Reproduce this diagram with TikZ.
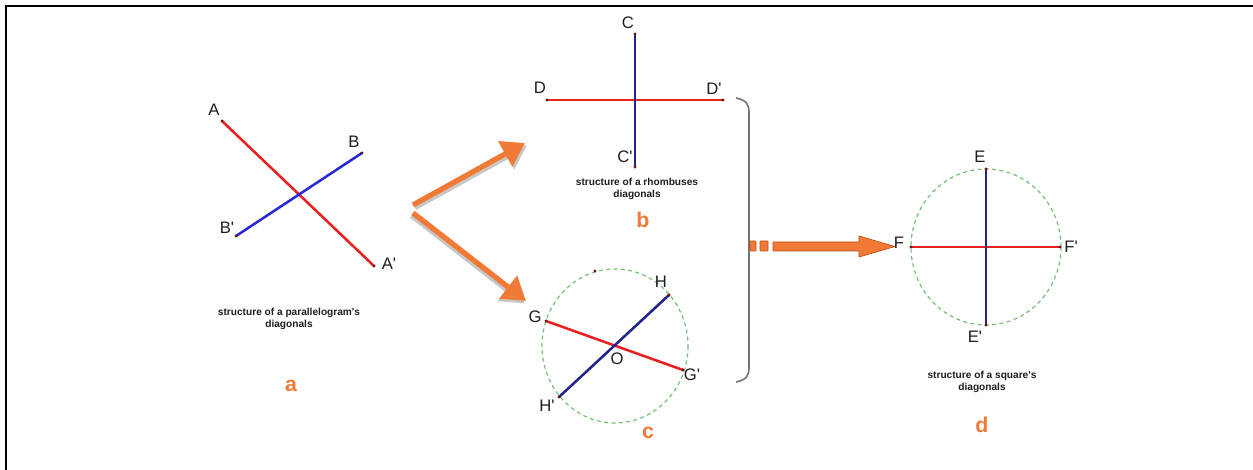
\documentclass[tikz,border=0pt]{standalone}
\usepackage{fontspec}
\setmainfont{Liberation Sans}
\usetikzlibrary{arrows.meta}
\definecolor{lred}{RGB}{232,32,32}
\definecolor{lblue}{RGB}{40,40,215}
\definecolor{navy}{RGB}{35,35,140}
\definecolor{orng}{RGB}{242,122,55}
\definecolor{orngdark}{RGB}{190,80,20}
\definecolor{dgreen}{RGB}{120,190,120}
\definecolor{ptc}{RGB}{110,20,20}
\definecolor{txt}{RGB}{30,30,30}
\newcommand{\pr}{\textquotesingle}
\tikzset{
  redseg/.style={draw=lred,line width=1.9pt},
  blueseg/.style={draw=lblue,line width=1.9pt},
  navyseg/.style={draw=navy,line width=1.9pt},
  ptlabel/.style={font=\fontsize{12.5}{12.5}\selectfont,text=txt,inner sep=0pt},
  caption/.style={font=\bfseries\fontsize{7.6}{9.5}\selectfont,text=txt,align=center,inner sep=0pt},
  letter/.style={font=\bfseries\fontsize{16}{16}\selectfont,text=orng,inner sep=0pt},
  dotpt/.style={fill=ptc,circle,inner sep=0pt,minimum size=2.4pt},
  circ/.style={draw=dgreen,line width=0.9pt,dash pattern=on 3pt off 2.5pt},
  orarrow/.style={draw=orng,line width=4pt,-{Triangle[length=17pt,width=21pt]}},
  shadarrow/.style={draw=black!22,line width=4pt,-{Triangle[length=17pt,width=21pt]}},
}
\begin{document}
\begin{tikzpicture}[x=0.75pt,y=-0.75pt]
\useasboundingbox (0,0) rectangle (1253,470);
\draw[line width=2pt] (6,470) -- (6,6) -- (1253,6);

% ---- a ----
\coordinate (A) at (222,121);
\coordinate (A2) at (374,266);
\coordinate (B) at (362,153);
\coordinate (B2) at (236,236);
\draw[redseg] (A) -- (A2);
\draw[blueseg] (B2) -- (B);
\foreach \p in {A,A2,B,B2} \node[dotpt] at (\p) {};
\node[ptlabel] (lA) at (214,110) {A};
\node[ptlabel] (lA2) at (389,264) {A\pr};
\node[ptlabel] (lB) at (354,142) {B};
\node[ptlabel] (lB2) at (227,228) {B\pr};
\node[caption] (capa) at (289,319) {structure of a parallelogram\pr s\\diagonals};
\node[letter] (la) at (291,386) {a};

% ---- arrows from a ----
\coordinate (s1) at (413,205);
\coordinate (t1) at (525,143);
\coordinate (s2) at (413,213);
\coordinate (t2) at (526,301);
\draw[shadarrow] ([shift={(2,2.5)}]s1) -- ([shift={(2,2.5)}]t1);
\draw[orarrow] (s1) -- (t1);
\draw[shadarrow] ([shift={(-1.5,2.5)}]s2) -- ([shift={(-1.5,2.5)}]t2);
\draw[orarrow] (s2) -- (t2);

% ---- b ----
\coordinate (C) at (635,34);
\coordinate (C2) at (635,167);
\coordinate (D) at (547,100);
\coordinate (D2) at (723,100);
\draw[redseg] (D) -- (D2);
\draw[navyseg] (C) -- (C2);
\foreach \p in {C,C2,D,D2} \node[dotpt] at (\p) {};
\node[ptlabel] (lC) at (628,23) {C};
\node[ptlabel] (lC2) at (625,157) {C\pr};
\node[ptlabel] (lD) at (540,88) {D};
\node[ptlabel] (lD2) at (714,89) {D\pr};
\node[caption] (capb) at (637,189) {structure of a rhombuses\\diagonals};
\node[letter] (lb) at (643,220) {b};

% ---- c ----
\coordinate (O) at (615,346);
\draw[circ] (O) circle [x radius=73, y radius=77];
\coordinate (G) at (546,321);
\coordinate (G2) at (683,370);
\coordinate (H) at (669,295);
\coordinate (H2) at (559,397);
\draw[redseg] (G) -- (G2);
\draw[navyseg] (H2) -- (H);
\foreach \p in {G,G2,H,H2} \node[dotpt] at (\p) {};
\node[dotpt] (top) at (595,271) {};
\node[ptlabel] (lG) at (535,317) {G};
\node[ptlabel] (lG2) at (692,375) {G\pr};
\node[ptlabel] (lH) at (661,282) {H};
\node[ptlabel] (lH2) at (547,406) {H\pr};
\node[ptlabel] (lO) at (617,359) {O};
\node[letter] (lc) at (648,433) {c};

% ---- bracket ----
\coordinate (k1) at (736,98);
\coordinate (k2) at (749,112);
\coordinate (k3) at (749,368);
\coordinate (k4) at (736,382);
\draw[black!55,line width=1.2pt] (k1) .. controls (746,100) and (749,104) .. (k2) -- (k3) .. controls (749,376) and (746,380) .. (k4);

% ---- big arrow ----
\draw[fill=orng,draw=orngdark,line width=0.5pt,rounded corners=0.5pt] (750,241) rectangle (756,251);
\draw[fill=orng,draw=orngdark,line width=0.5pt,rounded corners=0.5pt] (760,241) rectangle (768,251);
\draw[fill=orng,draw=orngdark,line width=0.5pt] (773,242) -- (859,242) -- (859,236) -- (895,246.5) -- (859,257) -- (859,251) -- (773,251) -- cycle;

% ---- d ----
\coordinate (Oc) at (986,247);
\draw[circ] (Oc) circle [x radius=75, y radius=78];
\coordinate (E) at (986,169);
\coordinate (E2) at (986,325);
\coordinate (F) at (911,247);
\coordinate (F2) at (1060,247);
\draw[redseg] (F) -- (F2);
\draw[navyseg] (E) -- (E2);
\foreach \p in {E,E2,F,F2} \node[dotpt] at (\p) {};
\node[ptlabel] (lE) at (980,157) {E};
\node[ptlabel] (lE2) at (975,337) {E\pr};
\node[ptlabel] (lF) at (899,243) {F};
\node[ptlabel] (lF2) at (1071,247) {F\pr};
\node[caption] (capd) at (982,382) {structure of a square\pr s\\diagonals};
\node[letter] (ld) at (982,425) {d};
\end{tikzpicture}
\end{document}
